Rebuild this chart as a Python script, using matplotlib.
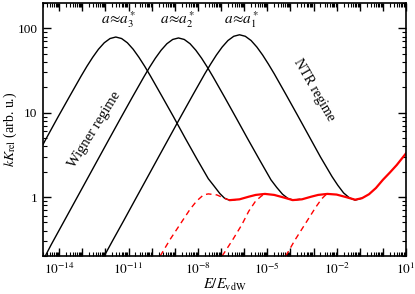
import matplotlib
matplotlib.use('Agg')
import matplotlib.pyplot as plt
import matplotlib.ticker as ticker
import numpy as np

plt.rcParams['font.family'] = 'serif'
plt.rcParams['font.serif'] = ['Liberation Serif']
plt.rcParams['mathtext.fontset'] = 'stix'

# log10(E/E_vdW) and kK_rel
c3_logE = [-14.7, -14.5, -14.05, -13.55, -13.05, -12.8, -12.55, -12.3, -12.05, -11.8, -11.55,
           -11.3, -11.05, -10.8, -10.55, -10.3, -10.05, -9.55, -9.05, -8.55, -8.05, -7.55,
           -7.3, -7.05, -6.85, -6.65, -6.4]
c3_val = [4.2, 5.3, 8.9, 15.6, 27.2, 35.5, 45.4, 56.6, 67.5, 75.8, 79,
          75.8, 67.5, 56.6, 45.4, 35.5, 27.2, 15.6, 8.9, 5.0, 2.85, 1.65,
          1.35, 1.1, 0.97, 0.92, 0.93]

c2_logE = [-14.6, -14.34, -13.84, -13.34, -12.84, -12.34, -11.84, -11.34, -10.84, -10.34,
           -10.09, -9.84, -9.59, -9.34, -9.09, -8.84, -8.59, -8.34, -8.09, -7.84, -7.59,
           -7.34, -6.84, -6.34, -5.84, -5.34, -4.84, -4.59, -4.34, -4.1, -3.88, -3.6]
c2_val = [0.2, 0.274, 0.487, 0.866, 1.54, 2.74, 4.87, 8.63, 15.2, 26.5,
          34.6, 44.3, 55.1, 65.8, 73.9, 77, 73.9, 65.8, 55.1, 44.3, 34.6,
          26.5, 15.2, 8.63, 4.87, 2.78, 1.6, 1.3, 1.08, 0.96, 0.92, 0.94]

c1_logE = [-12.05, -11.7, -11.2, -10.7, -10.2, -9.7, -9.2, -8.7, -8.2, -7.7, -7.45, -7.2,
           -6.95, -6.7, -6.45, -6.2, -5.95, -5.7, -5.45, -5.2, -4.95, -4.7, -4.2, -3.7,
           -3.2, -2.7, -2.2, -1.95, -1.7, -1.45, -1.2, -0.9]
c1_val = [0.2, 0.30, 0.53, 0.945, 1.68, 2.99, 5.31, 9.42, 16.6, 29.0, 37.7, 48.3,
          60.1, 71.8, 80.6, 84, 80.6, 71.8, 60.1, 48.3, 37.7, 29.0, 16.6, 9.42,
          5.31, 2.99, 1.75, 1.38, 1.12, 0.98, 0.92, 0.97]

red_logE = [-6.6, -6.2, -5.8, -5.5, -5.1, -4.7, -4.3, -3.9, -3.5, -3.1, -2.8, -2.4,
            -2.0, -1.6, -1.2, -0.9, -0.6, -0.3, 0.0, 0.3, 0.6, 1.0]
red_val = [0.92, 0.94, 1.01, 1.06, 1.09, 1.06, 0.99, 0.92, 0.94, 1.01, 1.06, 1.09,
           1.07, 1.00, 0.93, 0.97, 1.08, 1.28, 1.6, 1.95, 2.4, 3.3]

d1_logE = [-9.63, -9.2, -8.77, -8.34, -8.05, -7.76, -7.55, -7.18, -6.75, -6.55]
d1_val = [0.2, 0.315, 0.475, 0.716, 0.90, 1.06, 1.09, 1.06, 0.94, 0.92]

d2_logE = [-6.95, -6.5, -6.1, -5.8, -5.5, -5.25, -5.09]
d2_val = [0.2, 0.31, 0.47, 0.68, 0.90, 1.03, 1.09]

d3_logE = [-4.2, -3.8, -3.3, -2.9, -2.65, -2.43]
d3_val = [0.2, 0.31, 0.51, 0.76, 0.95, 1.09]

labels = [r'$a\!\approx\! a_3^*$', r'$a\!\approx\! a_2^*$', r'$a\!\approx\! a_1^*$']
label_logE = [-11.41, -8.85, -6.09]


def E(logs):
    return 10.0 ** np.array(logs)


fig = plt.figure(figsize=(4.15, 2.94), dpi=100)
ax = fig.add_axes([43 / 415, 38 / 294, 363 / 415, 253 / 294])

for lx, ly in [(c3_logE, c3_val), (c2_logE, c2_val), (c1_logE, c1_val)]:
    ax.plot(E(lx), ly, color='black', lw=1.0)
for lx, ly in [(d1_logE, d1_val), (d2_logE, d2_val), (d3_logE, d3_val)]:
    ax.plot(E(lx), ly, color='red', lw=1.0, ls=(0, (4, 3)))
ax.plot(E(red_logE), red_val, color='red', lw=1.6)

ax.set_xscale('log')
ax.set_yscale('log')
ax.set_xlim(2e-15, 10)
ax.set_ylim(0.2, 200)

ax.xaxis.set_major_locator(ticker.FixedLocator(E(range(-14, 2))))
ax.xaxis.set_major_formatter(ticker.FuncFormatter(
    lambda v, p: r'$10^{%d}$' % round(np.log10(v)) if round(np.log10(v)) % 3 == 1 else ''))
ax.xaxis.set_minor_locator(ticker.LogLocator(base=10, subs=np.arange(2, 10), numticks=40))
ax.xaxis.set_minor_formatter(ticker.NullFormatter())
ax.yaxis.set_major_locator(ticker.FixedLocator([1, 10, 100]))
ax.yaxis.set_major_formatter(ticker.FixedFormatter(['1', '10', '100']))
ax.yaxis.set_minor_locator(ticker.LogLocator(base=10, subs=np.arange(2, 10), numticks=20))
ax.yaxis.set_minor_formatter(ticker.NullFormatter())

ax.tick_params(which='both', direction='in', top=True, right=True, labelsize=9.5)
ax.tick_params(which='major', length=6, width=1, pad=4)
ax.tick_params(which='minor', length=3, width=0.8)
for s in ax.spines.values():
    s.set_linewidth(1.2)

ax.set_xlabel(r'$E/E_{\rm vdW}$', fontsize=10.5, labelpad=0)
ax.set_ylabel(r'$kK_{\rm rel}$ (arb. u.)', fontsize=10)
ax.yaxis.set_label_coords(-0.066, 0.5)

for lab, lx in zip(labels, label_logE):
    ax.text(10.0 ** lx, 128, lab, fontsize=11, ha='center', va='center')

ax.text(10.0 ** -12.45, 6.3, 'Wigner regime', fontsize=10.5, rotation=58,
        ha='center', va='center')
ax.text(10.0 ** -2.98, 18.5, 'NTR regime', fontsize=10, rotation=-60,
        ha='center', va='center')

plt.savefig('out.png', dpi=100)
